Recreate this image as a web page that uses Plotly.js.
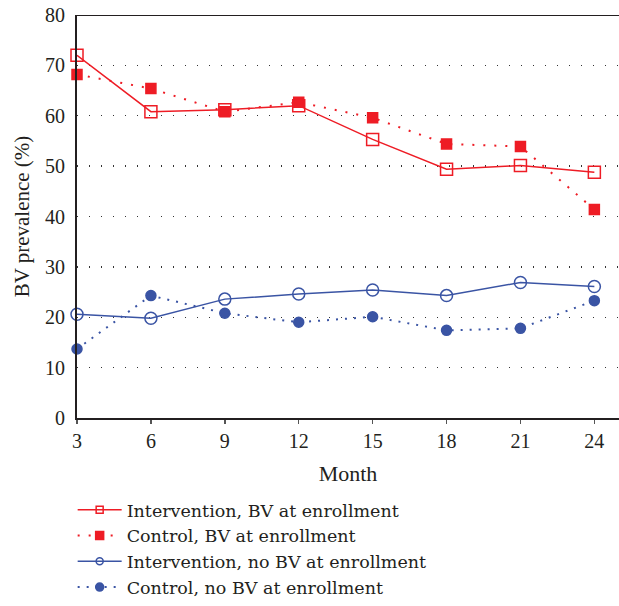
<!DOCTYPE html>
<html>
<head>
<meta charset="utf-8">
<script src="https://cdn.plot.ly/plotly-3.0.1.min.js"></script>
<style>html,body{margin:0;padding:0;background:#fff;}#chart{width:619px;height:606px;}</style>
</head>
<body>
<div id="chart"></div>
<script>
const months = [3, 6, 9, 12, 15, 18, 21, 24];
const interventionBV = [72.0, 60.8, 61.2, 62.0, 55.3, 49.4, 50.1, 48.8];
const controlBV = [68.2, 65.4, 60.8, 62.7, 59.6, 54.4, 53.9, 41.4];
const interventionNoBV = [20.6, 19.8, 23.6, 24.6, 25.4, 24.3, 26.9, 26.1];
const controlNoBV = [13.7, 24.3, 20.8, 19.0, 20.1, 17.4, 17.8, 23.3];
const yTicks = [0, 10, 20, 30, 40, 50, 60, 70, 80];
const names = ["Intervention, BV at enrollment", "Control, BV at enrollment",
               "Intervention, no BV at enrollment", "Control, no BV at enrollment"];

const RED = "#ee1c25", BLUE = "#3a54a4", INK = "#231f20";
const series = [interventionBV, controlBV, interventionNoBV, controlNoBV];
const styles = [
  {line: {color: RED, width: 1.5}, sym: "square-open", size: 12, lsize: 7},
  {line: {color: RED, width: 2, dash: "2px,9px"}, sym: "square", size: 10, lsize: 8},
  {line: {color: BLUE, width: 1.5}, sym: "circle-open", size: 12, lsize: 7},
  {line: {color: BLUE, width: 2, dash: "2px,7px"}, sym: "circle", size: 10, lsize: 8}
];
const traces = [];
series.forEach((vals, i) => {
  const s = styles[i];
  traces.push({x: months, y: vals, name: names[i], mode: "lines+markers", showlegend: false,
    cliponaxis: false, line: s.line,
    marker: {symbol: s.sym, size: s.size, color: s.line.color, line: {width: 1.5, color: s.line.color}}});
});
series.forEach((vals, i) => {
  const s = styles[i];
  traces.push({x: [null], y: [null], name: names[i], mode: "lines+markers", showlegend: true,
    line: s.line,
    marker: {symbol: s.sym, size: s.lsize, color: s.line.color, line: {width: 1.5, color: s.line.color}}});
});

const layout = {
  width: 619, height: 606,
  margin: {l: 77, r: 0, t: 15, b: 188},
  paper_bgcolor: "#fff", plot_bgcolor: "#fff",
  font: {family: "Liberation Serif, Times New Roman, serif", color: INK, size: 20},
  showlegend: true,
  legend: {x: -0.008, xanchor: "left", y: -0.464, yanchor: "bottom",
           orientation: "v", itemwidth: 44,
           font: {family: "DejaVu Serif, serif", size: 17.5, color: INK}, tracegroupgap: 0, bgcolor: "rgba(0,0,0,0)"},
  xaxis: {range: [3, 25], tickvals: months, ticks: "outside", ticklen: 4, tickwidth: 1.5,
          tickcolor: "#555", showline: true, linecolor: INK, linewidth: 2,
          showgrid: false, zeroline: false, tickfont: {size: 20},
          title: {text: "Month", font: {size: 22}, standoff: 15}},
  yaxis: {range: [0, 80], tickvals: yTicks, ticks: "", showline: true, linecolor: INK,
          linewidth: 2, showgrid: true, gridcolor: "#333", gridwidth: 1.3, griddash: "1.3px,10.7px",
          zeroline: false, tickfont: {size: 20}, ticklabelstandoff: 6,
          title: {text: "BV prevalence (%)", font: {size: 21}, standoff: 10}},
  shapes: [{type: "line", xref: "paper", yref: "y", x0: 0, x1: 1, y0: 80, y1: 80,
            line: {color: INK, width: 2}}]
};
Plotly.newPlot("chart", traces, layout, {displayModeBar: false, staticPlot: true});
</script>
</body>
</html>
